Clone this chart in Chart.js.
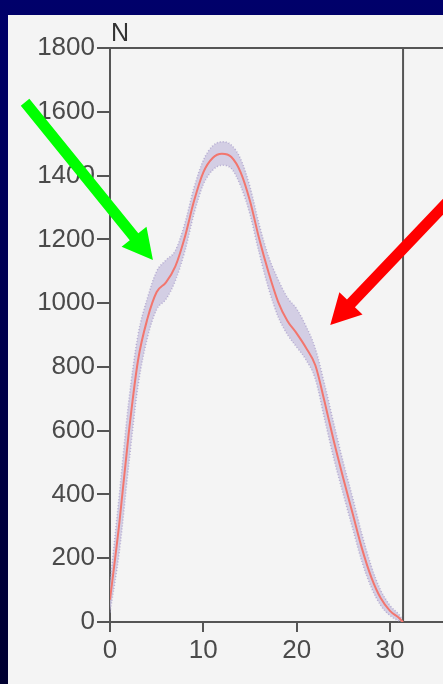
<!DOCTYPE html>
<html>
<head>
<meta charset="utf-8">
<script src="https://cdn.jsdelivr.net/npm/chart.js@4.4.0/dist/chart.umd.min.js"></script>
<style>
    html, body {
        margin: 0;
        padding: 0;
        width: 443px;
        height: 684px;
        overflow: hidden;
        background: linear-gradient(to bottom, #00006a, #000030);
    }
    #panel {
        position: absolute;
        left: 8px;
        top: 15px;
        width: 435px;
        height: 669px;
        background: #f4f4f4;
    }
</style>
</head>
<body>
<div id="panel">
    <canvas id="graficoForca" width="435" height="669"></canvas>
</div>
<script>
// valores (tempo x força N)
const tempo = [0, 1, 2, 3, 4, 5, 6, 7, 8, 9, 10, 11, 12, 13, 14, 15, 16, 17, 18, 19, 20, 21, 22, 23, 24, 25, 26, 27, 28, 29, 30, 31, 31.4];
const forcaMedia = [70, 310, 590, 820, 950, 1035, 1065, 1115, 1205, 1320, 1410, 1455, 1468, 1458, 1410, 1320, 1200, 1095, 1005, 945, 905, 860, 805, 690, 565, 450, 340, 230, 140, 75, 35, 12, 0];
const forcaSuperior = [120, 400, 690, 900, 1015, 1100, 1135, 1165, 1248, 1362, 1448, 1493, 1506, 1496, 1452, 1365, 1245, 1145, 1075, 1018, 982, 928, 858, 745, 620, 500, 390, 275, 175, 100, 52, 22, 4];
const forcaInferior = [30, 220, 490, 740, 890, 980, 1012, 1070, 1160, 1280, 1372, 1417, 1432, 1422, 1367, 1278, 1155, 1045, 958, 902, 862, 822, 762, 635, 510, 400, 293, 188, 108, 52, 20, 3, 0];
const fimApoio = 31.4;
const yTicks = [0, 200, 400, 600, 800, 1000, 1200, 1400, 1600, 1800];
const xTicks = [0, 10, 20, 30];

// setas (coordenadas em unidades do grafico)
const setaVerde = { de: [-9.1, 1630], ate: [4.6, 1135], cor: '#00ff00' };
const setaVermelha = { de: [37.5, 1358], ate: [23.6, 931], cor: '#ff0000' };

function pontos(ys) {
    return tempo.map(function (t, i) { return { x: t, y: ys[i] }; });
}

const corEixo = '#555555';
const fonteEixo = { family: '"Liberation Sans", Arial, sans-serif', size: 26 };

const pluginExtras = {
    id: 'extras',
    afterDatasetsDraw: function (chart) {
        const ctx = chart.ctx;
        const xs = chart.scales.x;
        const ys = chart.scales.y;

        [setaVerde, setaVermelha].forEach(function (s) {
            const x0 = xs.getPixelForValue(s.de[0]);
            const y0 = ys.getPixelForValue(s.de[1]);
            const x1 = xs.getPixelForValue(s.ate[0]);
            const y1 = ys.getPixelForValue(s.ate[1]);
            const ang = Math.atan2(y1 - y0, x1 - x0);
            const len = Math.hypot(x1 - x0, y1 - y0);
            const headLen = 30, headW = 32, shaftW = 11;
            ctx.save();
            ctx.translate(x0, y0);
            ctx.rotate(ang);
            ctx.fillStyle = s.cor;
            ctx.beginPath();
            ctx.moveTo(0, -shaftW / 2);
            ctx.lineTo(len - headLen, -shaftW / 2);
            ctx.lineTo(len - headLen, -headW / 2);
            ctx.lineTo(len, 0);
            ctx.lineTo(len - headLen, headW / 2);
            ctx.lineTo(len - headLen, shaftW / 2);
            ctx.lineTo(0, shaftW / 2);
            ctx.closePath();
            ctx.fill();
            ctx.restore();
        });

        // rotulo do eixo Y
        ctx.save();
        ctx.fillStyle = '#333333';
        ctx.font = '25px "Liberation Sans", Arial, sans-serif';
        ctx.textAlign = 'left';
        ctx.textBaseline = 'bottom';
        ctx.fillText('N', chart.chartArea.left + 1, chart.chartArea.top - 1);
        ctx.restore();
    }
};

const ctx = document.getElementById('graficoForca').getContext('2d');
new Chart(ctx, {
    type: 'line',
    data: {
        datasets: [
            {
                label: 'superior',
                data: pontos(forcaSuperior),
                borderColor: 'rgba(165,155,200,0.75)',
                borderWidth: 1.5,
                borderDash: [1, 2],
                backgroundColor: 'rgba(204,199,224,0.85)',
                fill: '+1',
                pointRadius: 0,
                cubicInterpolationMode: 'monotone',
                order: 3
            },
            {
                label: 'inferior',
                data: pontos(forcaInferior),
                borderColor: 'rgba(165,155,200,0.75)',
                borderWidth: 1.5,
                borderDash: [1, 2],
                fill: false,
                pointRadius: 0,
                cubicInterpolationMode: 'monotone',
                order: 2
            },
            {
                label: 'media',
                data: pontos(forcaMedia),
                borderColor: '#f2766e',
                borderWidth: 2,
                fill: false,
                pointRadius: 0,
                cubicInterpolationMode: 'monotone',
                order: 0
            },
            {
                label: 'fim',
                data: [{ x: fimApoio, y: 0 }, { x: fimApoio, y: 1800 }],
                borderColor: corEixo,
                borderWidth: 2,
                fill: false,
                pointRadius: 0,
                order: 1
            }
        ]
    },
    options: {
        responsive: false,
        animation: false,
        layout: { padding: { top: 33, right: 0, left: 0, bottom: 0 } },
        plugins: {
            legend: { display: false },
            tooltip: { enabled: false },
            title: { display: false }
        },
        scales: {
            x: {
                type: 'linear',
                min: 0,
                max: 35.68,
                afterFit: function (s) { s.height = 62; },
                afterBuildTicks: function (s) { s.ticks = xTicks.map(function (v) { return { value: v }; }); },
                ticks: {
                    color: '#4a4a4a', font: fonteEixo, padding: 3, maxRotation: 0,
                    callback: function (v) { return String(v); }
                },
                grid: { drawOnChartArea: false, drawTicks: true, tickLength: 10, color: corEixo, lineWidth: 2 },
                border: { display: true, color: corEixo, width: 2 }
            },
            xTopo: {
                type: 'linear',
                position: 'top',
                min: 0,
                max: 35.68,
                afterFit: function (s) { s.height = 0; },
                ticks: { display: false },
                grid: { display: false },
                border: { display: true, color: corEixo, width: 2 }
            },
            y: {
                min: 0,
                max: 1800,
                afterFit: function (s) { s.width = 102; },
                afterBuildTicks: function (s) { s.ticks = yTicks.map(function (v) { return { value: v }; }); },
                ticks: {
                    color: '#4a4a4a', font: fonteEixo, padding: 2,
                    callback: function (v) { return String(v); }
                },
                grid: { drawOnChartArea: false, drawTicks: true, tickLength: 13, color: corEixo, lineWidth: 2 },
                border: { display: true, color: corEixo, width: 2 }
            }
        }
    },
    plugins: [pluginExtras]
});
</script>
</body>
</html>
